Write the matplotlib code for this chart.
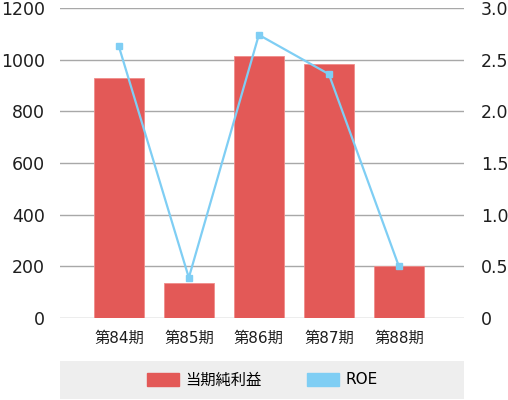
import matplotlib.pyplot as plt
from matplotlib.patches import Patch
import numpy as np

plt.rcParams['font.family'] = ['DejaVu Sans', 'Noto Sans CJK JP']

# データ
periods = ['第84期', '第85期', '第86期', '第87期', '第88期']
net_income = [929, 134, 1013, 983, 200]
roe = [2.63, 0.39, 2.74, 2.36, 0.50]

bar_color = '#E35957'
line_color = '#7FCEF4'
grid_color = '#A8A8A8'

fig = plt.figure(figsize=(5.08, 4.0), dpi=100)
ax = fig.add_axes([60/508, 82/400, 404/508, 310/400])
ax2 = ax.twinx()

x = np.arange(len(periods))
ax.bar(x, net_income, width=0.715, color=bar_color, edgecolor='#F08C8A', linewidth=0.6, zorder=2)
ax.set_ylim(0, 1200)
ax.set_yticks(range(0, 1201, 200))
ax.set_xlim(-0.84, 4.93)
ax.set_xticks(x)
ax.set_xticklabels(periods)
ax.grid(axis='y', color=grid_color, linewidth=1.0, zorder=0)
ax.set_axisbelow(True)

ax2.plot(x, roe, color=line_color, linewidth=1.6, marker='s', markersize=5, zorder=3)
ax2.set_ylim(0, 3.0)
ax2.set_yticks([0, 0.5, 1.0, 1.5, 2.0, 2.5, 3.0])
ax2.set_yticklabels(['0', '0.5', '1.0', '1.5', '2.0', '2.5', '3.0'])

for a in (ax, ax2):
    for s in a.spines.values():
        s.set_visible(False)
    a.tick_params(length=0, labelsize=12.5, colors='#1E1E1E')
ax.tick_params(axis='y', pad=11)
ax2.tick_params(axis='y', pad=12)
ax.tick_params(axis='x', labelsize=11, pad=9)

# 凡例
lax = fig.add_axes([60/508, 1/400, 404/508, 38/400])
lax.set_facecolor('#EEEEEE')
lax.set_xticks([])
lax.set_yticks([])
for s in lax.spines.values():
    s.set_visible(False)
handles = [Patch(color=bar_color, label='当期純利益'), Patch(color=line_color, label='ROE')]
lax.legend(handles=handles, loc='center', ncol=2, frameon=False, fontsize=11,
           handlelength=2.1, handleheight=0.9, handletextpad=0.4, columnspacing=3.0)

plt.savefig('out.png', dpi=100)
